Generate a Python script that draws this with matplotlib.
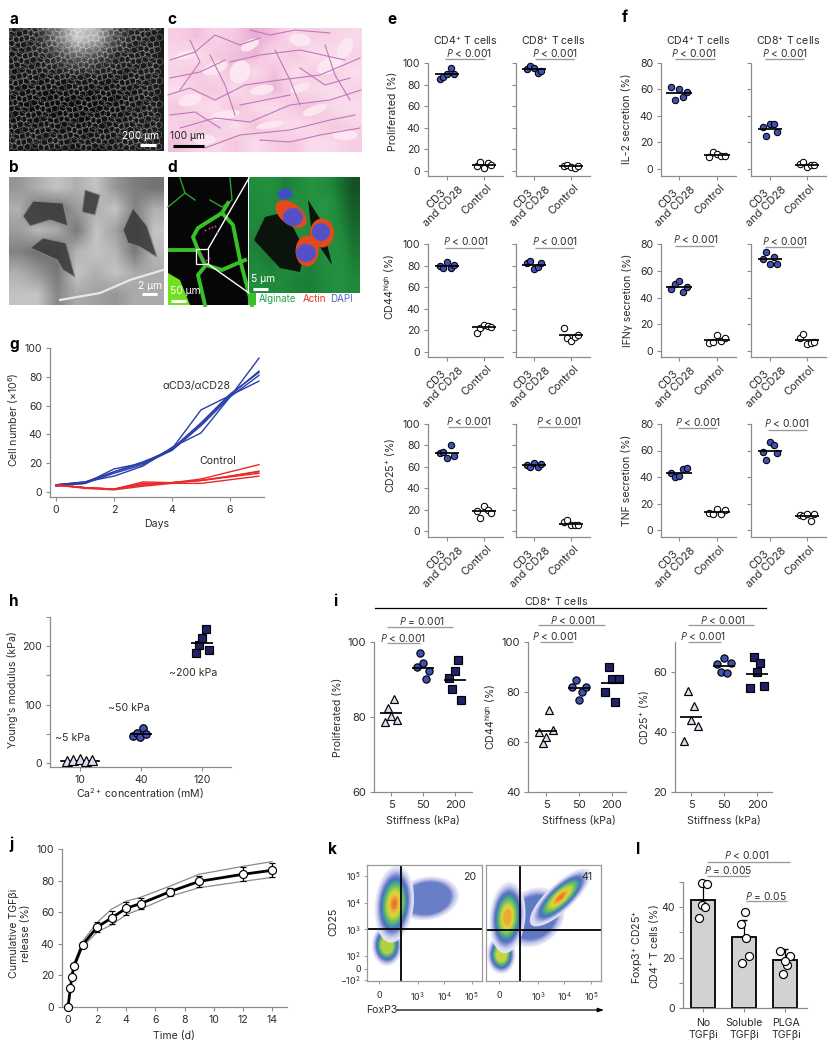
import numpy as np
import matplotlib
matplotlib.use("Agg")
import matplotlib.pyplot as plt
from matplotlib.patches import Ellipse, Polygon, Rectangle
from matplotlib.collections import LineCollection
from matplotlib.colors import LinearSegmentedColormap

plt.rcParams['font.family'] = ['Inter', 'DejaVu Sans']
plt.rcParams['mathtext.fontset'] = 'custom'
plt.rcParams['mathtext.rm'] = 'Inter'
plt.rcParams['mathtext.it'] = 'Open Sans:italic'
plt.rcParams['mathtext.default'] = 'regular'

# ---------- data ----------
OFFSETS = [-0.2, -0.1, 0.0, 0.1, 0.2]
E_CD4_PROLIF = ([85, 87, 90, 95, 90], [5, 8, 3, 7, 6], 90, 6)
E_CD8_PROLIF = ([94, 97, 95, 91, 93], [5, 6, 4, 3, 5], 94, 5)
E_CD4_CD44 = ([80, 78, 83, 78, 81], [18, 22, 25, 24, 23.5], 80, 23)
E_CD8_CD44 = ([82, 84, 77, 79, 82], [22, 13, 10, 14, 15.5], 81, 15.5)
E_CD4_CD25 = ([73, 74, 68, 80, 70], [19, 12.5, 23.5, 20, 17], 73, 18.5)
E_CD8_CD25 = ([62, 60, 64, 60, 63], [8, 10, 5.5, 5.5, 6], 62, 7)
F_CD4_IL2 = ([62, 52, 60, 54, 58], [9, 12.5, 11, 10, 10], 57.5, 10.5)
F_CD8_IL2 = ([32, 25, 34, 34, 28], [3.5, 5, 1.5, 3, 3], 30.5, 3)
F_CD4_IFN = ([46, 50, 52, 44, 48], [6, 7, 12, 7.5, 9.5], 48, 8.5)
F_CD8_IFN = ([68.6, 73.7, 65.3, 70.4, 65], [9.5, 12.5, 5, 6, 7], 68.5, 8)
F_CD4_TNF = ([43, 40, 40.5, 46, 47], [13, 12, 16, 12, 15], 43, 13.5)
F_CD8_TNF = ([59, 52.5, 66.5, 64, 58], [11, 10.5, 12, 7, 12], 60, 10.5)

G_DAYS = [0, 1, 2, 3, 4, 5, 6, 7]
G_BLUE = [[5, 6, 16, 20, 30, 57, 67, 77],
          [5, 7, 11, 18, 31, 41, 66, 93],
          [5, 6, 13, 19, 29, 47, 67, 84],
          [4, 6, 14, 20, 30, 48, 68, 83],
          [5, 7, 14, 21, 29, 46, 66, 81]]
G_RED = [[5, 3, 2, 7, 6.5, 9, 14, 19],
         [5, 3, 2, 6, 6.5, 8, 11, 14.5],
         [5, 3, 2, 5, 6.5, 8, 11, 14],
         [4.5, 3, 2, 5, 6.5, 8, 10.5, 13],
         [5, 2.5, 1.5, 4, 6, 6, 8.5, 11]]

H_CATS = ['10', '40', '120']
H_TRI = [4, 5, 6, 4, 5]
H_TRI_DX = [-0.21, -0.12, 0, 0.1, 0.2]
H_CIR = [47, 52, 44, 60, 49]
H_CIR_DX = [-0.125, -0.07, -0.015, 0.04, 0.09]
H_SQU = [189, 202, 214, 230, 194]
H_SQU_DX = [-0.105, -0.05, 0, 0.06, 0.115]
H_MEANS = [3, 50, 206]

I_CATS = ['5', '50', '200']
I_PROLIF = [[78.6, 82.4, 80.4, 84.8, 79.1], [93.3, 97, 94.3, 90.1, 92.4], [90.3, 87.5, 92.4, 95.2, 84.6]]
I_PROLIF_M = [81, 93, 90]
I_CD44 = [[64.1, 59.5, 62.1, 72.9, 64.7], [82.1, 84.8, 76.8, 79.9, 82.1], [79.9, 89.9, 85.1, 76.1, 85.3]]
I_CD44_M = [64.5, 81.5, 83.5]
I_CD25 = [[36.9, 53.8, 44, 48.7, 42], [62.6, 60.1, 64.7, 59.8, 62.9], [54.8, 65, 60, 63, 55.3]]
I_CD25_M = [45, 62, 59.5]

J_T = [0, 0.17, 0.25, 0.42, 1, 2, 3, 4, 5, 7, 9, 12, 14]
J_Y = [0, 12, 19, 26, 39.5, 50.5, 56.5, 62.5, 65.5, 73, 79.5, 84, 86.5]
J_ERR = [0, 1, 1, 1, 1.5, 3, 4, 4, 3.5, 2.5, 3.5, 4.5, 4.5]
J_UP = [0, 13, 20, 28, 41.5, 53.5, 62, 67, 69.5, 76.5, 84, 89, 92]
J_LO = [0, 11, 18, 25, 38, 47.5, 52, 58.5, 62, 70, 75.5, 79.5, 82]

# flow populations: centre x, centre y, width, height, angle (decades), hottest stop
K_LEFT = [(3.37, 4.16, 2.2, 1.5, 10, 0.34),
          (1.86, 2.40, 1.05, 1.45, 0, 0.72),
          (2.13, 3.95, 1.35, 2.7, -6, 1.0)]
K_RIGHT = [(2.85, 3.45, 2.3, 1.9, 40, 0.36),
           (1.62, 2.05, 1.0, 1.35, 0, 0.75),
           (1.85, 3.45, 1.25, 2.5, -5, 0.88),
           (3.85, 4.20, 0.95, 2.8, -47, 1.0)]
K_STOPS = ['#eceDf8', '#d8daf2', '#b4bbe6', '#7d8ad0', '#4a6abc', '#3f9aa8', '#62bc62', '#a8d048', '#ecd83c', '#f09a2c', '#e0502a']
K_PCT = ['20', '41']

L_CATS = ['No\nTGFβi', 'Soluble\nTGFβi', 'PLGA\nTGFβi']
L_BAR = [43, 28, 19]
L_ERR = [49, 35, 23.5]
L_PTS = [[35.6, 41, 40, 49.6, 49.3], [17.9, 20.5, 27.8, 33.3, 38.1], [13.5, 16.9, 20.6, 18.8, 22.5]]
L_DX = [[-0.1, -0.03, 0.06, -0.02, 0.1], [-0.05, 0.12, 0.06, -0.08, 0.02], [-0.05, 0.06, 0.11, 0.0, -0.11]]

# photographic panels as coarse tone grids
PHOTO_A = [[22, 40, 110, 200, 170, 70, 30, 26], [22, 28, 50, 85, 65, 32, 26, 28], [20, 20, 20, 22, 20, 20, 22, 28],
           [14, 12, 10, 10, 12, 14, 20, 24], [16, 16, 14, 12, 14, 18, 24, 28], [22, 22, 22, 20, 20, 24, 28, 28]]
PHOTO_B = [[150, 175, 195, 175, 195, 150, 125, 115], [175, 120, 110, 155, 175, 195, 130, 175],
           [155, 185, 170, 120, 195, 160, 110, 195], [130, 110, 110, 180, 195, 180, 120, 185],
           [175, 150, 120, 195, 175, 195, 170, 170], [195, 195, 135, 170, 160, 150, 170, 170]]
B_HOLES = [[(23, 216), (33, 201), (63, 203), (68, 226), (50, 220), (30, 226)],
           [(30, 248), (43, 238), (66, 243), (75, 277), (63, 270), (57, 260)],
           [(123, 230), (133, 208), (147, 226), (157, 257), (140, 247), (128, 243)],
           [(85, 190), (100, 195), (95, 215), (82, 212)]]
B_FIBRE = [(60, 300), (100, 293), (130, 280), (163, 270)]
PHOTO_C = [[.45, .55, .4, .5, .65, .55, .35, .45, .4, .35], [.35, .3, .5, .55, .6, .35, .5, .3, .3, .4],
           [.4, .5, .35, .6, .35, .55, .3, .45, .45, .3], [.3, .45, .5, .3, .5, .6, .4, .35, .3, .4],
           [.5, .35, .3, .55, .35, .3, .5, .55, .35, .3], [.4, .5, .45, .3, .55, .4, .3, .4, .5, .4],
           [.55, .4, .35, .5, .3, .45, .5, .3, .35, .45]]
C_WHITE = [(190, 100, 24, 12, -15), (215, 68, 26, 12, -20), (240, 72, 20, 24, 30), (262, 90, 24, 10, -10),
           (300, 40, 22, 12, 10), (330, 65, 28, 16, -25), (345, 48, 14, 22, 30), (185, 55, 22, 8, -15),
           (225, 115, 30, 9, -10), (270, 125, 28, 7, -10), (315, 110, 26, 9, -20), (345, 135, 26, 10, 0),
           (205, 140, 22, 10, -5), (300, 88, 20, 8, -20), (250, 45, 20, 10, -30)]
C_STRANDS = [[(170, 60), (195, 52), (215, 35), (240, 45), (260, 38)], [(230, 62), (260, 55), (300, 50), (345, 60)],
             [(168, 95), (190, 88), (215, 100), (245, 85), (280, 80), (320, 75), (360, 58)],
             [(180, 128), (215, 118), (250, 122), (290, 105), (330, 100), (361, 90)],
             [(205, 148), (240, 135), (290, 130), (330, 120), (355, 115)], [(210, 55), (225, 85), (235, 115)],
             [(275, 50), (290, 80), (300, 105)], [(325, 45), (335, 75), (350, 100)],
             [(170, 78), (200, 72), (225, 60)], [(240, 105), (265, 100), (290, 95)], [(300, 68), (325, 85), (350, 78)],
             [(170, 115), (195, 112), (220, 128)], [(260, 140), (290, 142), (320, 135), (360, 128)],
             [(250, 30), (270, 35), (295, 30), (330, 33)], [(190, 40), (200, 62), (180, 90)]]
D_RIGHT_BG = [[.55, .6, .45, .5, .65, .55, .4, .25], [.5, .55, .5, .6, .6, .7, .45, .3], [.5, .45, .5, .6, .5, .65, .5, .35],
              [.45, .4, .45, .55, .45, .6, .55, .4], [.5, .45, .5, .5, .45, .55, .6, .45], [.55, .5, .5, .45, .45, .5, .6, .5]]

# ---------- helpers ----------
W, H = 838, 1050
fig = plt.figure(figsize=(W / 100, H / 100), dpi=100)
ov = fig.add_axes([0, 0, 1, 1], zorder=5)
ov.set_xlim(0, W); ov.set_ylim(H, 0); ov.axis('off'); ov.patch.set_alpha(0)
bg = fig.add_axes([0, 0, 1, 1], zorder=0)
bg.set_xlim(0, W); bg.set_ylim(H, 0); bg.axis('off')

TXT = '#2b2b2b'
SP = '#8c8c8c'
BLUE = '#3f51b5'
NAVY = '#1f2266'
LAV = '#dcdcf2'
PT = "$\\mathit{P}$"
FS = 7.6
TICK = 7.6


def T(x, y, s, size=FS, color=TXT, rot=0, ha='center', va='center', **kw):
    ov.text(x, y, s, fontsize=size, color=color, rotation=rot, ha=ha, va=va, **kw)


def mk(x0, x1, ytop, ybot, vtop, v0, p0, tx, xv=(0, 1), labels=True, yticks=None, size=TICK):
    per = (p0 - ytop) / (vtop - v0)
    ax = fig.add_axes([x0 / W, 1 - ybot / H, (x1 - x0) / W, (ybot - ytop) / H], zorder=2)
    ax.patch.set_alpha(0)
    ax.set_ylim(v0 - (ybot - p0) / per, vtop)
    px = (tx[1] - tx[0]) / (xv[1] - xv[0])
    ax.set_xlim(xv[0] + (x0 - tx[0]) / px, xv[0] + (x1 - tx[0]) / px)
    for s in ('top', 'right'):
        ax.spines[s].set_visible(False)
    for s in ('left', 'bottom'):
        ax.spines[s].set_color(SP)
        ax.spines[s].set_linewidth(0.9)
    ax.tick_params(colors=SP, labelcolor=TXT, width=0.8, length=3, labelsize=size, pad=2.5)
    if yticks is not None:
        ax.set_yticks(yticks)
    if not labels:
        ax.set_yticklabels([])
    return ax


def bracket(x0, x1, y, tx, ty, s, size=7.4):
    ov.plot([x0, x1], [y, y], color='#9a9a9a', lw=0.95, solid_capstyle='butt')
    T(tx, ty, s, size=size)


def scatter_cols(ax, cols, means, markers, faces, ms=4.6, mew=0.75, dxs=None, half=0.33, start=0):
    for i, (vals, m) in enumerate(zip(cols, means)):
        dx = OFFSETS if dxs is None else dxs[i]
        c = start + i
        ax.plot([c - half, c + half], [m, m], color='black', lw=1.25, zorder=4, solid_capstyle='butt')
        ax.plot([c + d for d in dx], vals, ls='none', marker=markers[i], ms=ms, mfc=faces[i], mec='black',
                mew=mew, zorder=3, clip_on=False)


# ---------- photos ----------
gray_im = dict(cmap='gray', vmin=0, vmax=255, interpolation='bilinear', aspect='auto', zorder=1)
# a: foam texture as a bent honeycomb
bg.imshow(PHOTO_A, extent=[9, 163, 151, 28], **gray_im)
segs = []
R = 3.6
for r in range(0, 30):
    for q in range(0, 30):
        cx = 9 + q * R * 1.73 + (r % 2) * R * 0.87
        cy = 28 + r * R * 1.5
        if cx > 161 or cy > 149:
            continue
        verts = []
        for k in range(6):
            a = np.pi / 6 + k * np.pi / 3
            vx = cx + R * np.cos(a) + 1.4 * np.sin(cy * 0.31 + cx * 0.17)
            vy = cy + R * np.sin(a) + 1.4 * np.cos(cx * 0.29 - cy * 0.13)
            verts.append((min(max(vx, 9), 163), min(max(vy, 28), 151)))
        segs.append(verts + [verts[0]])
bg.add_collection(LineCollection(segs, colors='white', linewidths=0.4, alpha=0.42, zorder=2))
# b
bg.imshow(PHOTO_B, extent=[9, 163, 305, 177], **gray_im)
for pts in B_HOLES:
    bg.add_patch(Polygon(pts, fc='#3c3c3c', ec='#8a8a8a', lw=0.8, alpha=0.9, zorder=2))
xs, ys = zip(*B_FIBRE)
bg.plot(xs, ys, color='#e8e8e8', lw=1.6, zorder=3)
# c
pink = LinearSegmentedColormap.from_list('he', ['#ffffff', '#f6c8e0', '#c868b8'])
bg.imshow(PHOTO_C, extent=[168, 361, 152, 28], cmap=pink, vmin=0, vmax=1, interpolation='bilinear', aspect='auto', zorder=1)
for cx, cy, w, h, a in C_WHITE:
    bg.add_patch(Ellipse((cx, cy), w, h, angle=a, fc='#fbe6f1', ec='none', zorder=2))
for pts in C_STRANDS:
    xs, ys = zip(*pts)
    bg.plot(xs, ys, color='#c078bc', lw=0.8, zorder=3)
# d, left part
bg.add_patch(Rectangle((168, 177), 80, 128, fc='#060606', ec='none', zorder=1))
D_THIN = [[(180, 178), (185, 193), (168, 207)], [(185, 193), (195, 200)], [(230, 178), (232, 200), (222, 207), (210, 200)]]
D_THICK = [[(228, 203), (222, 213), (198, 228), (193, 237), (198, 250), (205, 265)],
           [(222, 213), (233, 225), (240, 260), (252, 305)], [(198, 250), (170, 250)],
           [(245, 260), (222, 270), (206, 265), (198, 275), (205, 305)]]
for pts in D_THIN:
    xs, ys = zip(*pts)
    bg.plot(xs, ys, color='#2ca02c', lw=1.0, zorder=2)
for pts in D_THICK:
    xs, ys = zip(*pts)
    bg.plot(xs, ys, color='#38c028', lw=2.8, zorder=2, solid_joinstyle='round')
bg.add_patch(Polygon([(168, 273), (180, 280), (190, 305), (168, 305)], fc='#70e020', ec='none', zorder=2))
bg.add_patch(Rectangle((248, 293), 8, 12, fc='#38c028', ec='none', zorder=3))
bg.add_patch(Rectangle((248, 177), 2, 116, fc='white', ec='none', zorder=3))
# d, right part
green = LinearSegmentedColormap.from_list('alg', ['#061a0c', '#1f8a3c', '#3aa84c'])
bg.imshow(D_RIGHT_BG, extent=[249, 360, 293, 177], cmap=green, vmin=0, vmax=1, interpolation='bilinear', aspect='auto', zorder=3)
bg.add_patch(Polygon([(254, 240), (265, 217), (285, 212), (305, 250), (300, 272), (280, 268)], fc='#0a140c', ec='none', zorder=4))
bg.add_patch(Polygon([(308, 200), (322, 222), (332, 265), (312, 235)], fc='#0a140c', ec='none', zorder=4))
bg.add_patch(Ellipse((285, 194), 15, 11, fc='#3f4fc8', ec='none', zorder=5))
D_CELLS = [(291, 214, 36, 21, 38, 293, 217, 20, 18), (322, 233, 24, 29, 0, 321, 232, 18, 18), (307, 251, 23, 31, 0, 306, 253, 20, 18)]
for cx, cy, w, h, a, nx, ny, nw, nh in D_CELLS:
    bg.add_patch(Ellipse((cx, cy), w, h, angle=a, fc='#e04a1c', ec='none', zorder=5))
    bg.add_patch(Ellipse((nx, ny), nw, nh, fc='#5650c8', ec='none', zorder=6))
for xy0, xy1 in [((208, 249), (249, 178)), ((208, 264), (249, 293))]:
    ov.plot([xy0[0], xy1[0]], [xy0[1], xy1[1]], color='white', lw=1.0)
ov.add_patch(Rectangle((195.5, 249), 12.5, 15, fc='none', ec='white', lw=0.9))
D_DOTS_X = [205, 209, 212, 215, 201, 203, 206, 209, 217]
D_DOTS_Y = [230, 228, 227, 226, 255, 258, 260, 258, 232]
ov.plot(D_DOTS_X, D_DOTS_Y, ls='none', marker='o', ms=1.3, color='#e040c0', mec='none')

# scale bars
for (x0, x1, y, c) in [(140, 156, 145, 'white'), (173, 204, 146, 'black'), (142, 157, 294, 'white'),
                       (253, 268, 289, 'white'), (171, 186, 301, 'white')]:
    ov.plot([x0, x1], [y, y], color=c, lw=2.2, solid_capstyle='butt')
T(141, 136, '200 µm', size=7.4, color='white')
T(187, 136, '100 µm', size=7.4, color='#222222')
T(150, 286, '2 µm', size=7.4, color='white')
T(263, 279, '5 µm', size=7.4, color='white')
T(185, 291, '50 µm', size=7.4, color='white')
T(277, 299, 'Alginate', size=7.0, color='#22a04a')
T(314, 299, 'Actin', size=7.0, color='#e8352a')
T(341, 299, 'DAPI', size=7.0, color='#5566c4')

# ---------- panels e, f ----------
X_E = [(428, 503, 447, 484), (516, 590, 534, 571)]
X_F = [(661, 736, 679, 717), (751, 826, 770, 807)]
ROWS_E = [(63, 176, 171), (244, 357, 352), (424, 537, 531)]
ROWS_F = [(63, 176, 169), (244, 357, 351), (424, 537, 530)]
E_DATA = [[E_CD4_PROLIF, E_CD8_PROLIF], [E_CD4_CD44, E_CD8_CD44], [E_CD4_CD25, E_CD8_CD25]]
F_DATA = [[F_CD4_IL2, F_CD8_IL2], [F_CD4_IFN, F_CD8_IFN], [F_CD4_TNF, F_CD8_TNF]]


def group(Xs, rows, data, vmax, ticks):
    for r, (ytop, ybot, p0) in enumerate(rows):
        for c, (x0, x1, t0, t1) in enumerate(Xs):
            ax = mk(x0, x1, ytop, ybot, vmax, 0, p0, (t0, t1), labels=(c == 0), yticks=ticks)
            ax.set_xticks([0, 1]); ax.set_xticklabels([])
            a, b, ma, mb = data[r][c]
            scatter_cols(ax, [a, b], [ma, mb], ['o', 'o'], [BLUE, 'white'])
            T(t0 - 7, ybot + 27, 'CD3\nand CD28', size=7.9, rot=45, linespacing=1.05, multialignment='center')
            T(t1 - 7.5, ybot + 23, 'Control', size=7.9, rot=45)


group(X_E, ROWS_E, E_DATA, 100, [0, 20, 40, 60, 80, 100])
group(X_F, ROWS_F, F_DATA, 80, [0, 20, 40, 60, 80])
for x, s in [(465, 'CD4$^{+}$ T cells'), (553, 'CD8$^{+}$ T cells'), (698, 'CD4$^{+}$ T cells'), (788, 'CD8$^{+}$ T cells')]:
    T(x, 41, s, size=7.6)
P_LT = PT + ' < 0.001'
for a in [(445, 485, 59, 469, 53), (535, 574, 59, 555, 53), (675, 715, 59, 694, 53), (765, 804, 59, 785, 53),
          (445, 484, 248, 466, 241), (535, 574, 248, 555, 241), (675, 714, 246, 696, 239), (765, 804, 247, 785, 241),
          (448, 487, 427, 469, 421), (538, 577, 427, 559, 421), (678, 717, 428, 698, 422), (768, 807, 430, 787, 423)]:
    bracket(*a, P_LT)
T(393, 111, 'Proliferated (%)', rot=90)
T(390, 287, 'CD44$^{high}$ (%)', rot=90)
T(390, 465, 'CD25$^{+}$ (%)', rot=90)
T(627, 119, 'IL-2 secretion (%)', rot=90)
T(627, 300, 'IFNγ secretion (%)', rot=90)
T(627, 480, 'TNF secretion (%)', rot=90)

# ---------- panel g ----------
ax = mk(50, 264, 348, 497, 100, 0, 492, (56, 114), xv=(0, 2), yticks=[0, 20, 40, 60, 80, 100])
ax.set_xticks([0, 2, 4, 6])
for row in G_BLUE:
    ax.plot(G_DAYS, row, color='#2a3ea8', lw=1.0)
for row in G_RED:
    ax.plot(G_DAYS, row, color='#ea2a2a', lw=1.0)
T(196, 386, 'αCD3/αCD28')
T(218, 461, 'Control')
T(14, 420, 'Cell number (×10$^{6}$)', rot=90)
T(157, 524, 'Days')

# ---------- panel h ----------
ax = mk(50, 231, 617, 767, 250, 0, 763, (80, 141), yticks=[0, 50, 100, 150, 200, 250])
ax.set_yticklabels(['0', '', '100', '', '200', ''])
ax.set_xticks([0, 1, 2]); ax.set_xticklabels(H_CATS)
ax.plot([-0.31, 0.31], [H_MEANS[0], H_MEANS[0]], color='black', lw=1.25, zorder=2)
ax.plot(H_TRI_DX, H_TRI, ls='none', marker='^', ms=6.6, mfc=LAV, mec='black', mew=0.85, zorder=3, clip_on=False)
scatter_cols(ax, [H_CIR, H_SQU], H_MEANS[1:], ['o', 's'], [BLUE, NAVY], ms=5.4, mew=0.85,
             dxs=[H_CIR_DX, H_SQU_DX], half=0.18, start=1)
T(73, 738, '~5 kPa')
T(129, 708, '~50 kPa')
T(193, 673, '~200 kPa')
T(140, 794, 'Ca$^{2+}$ concentration (mM)')
T(13, 690, "Young's modulus (kPa)", rot=90)

# ---------- panel i ----------
I_AXES = [(374, 472, 642, 792, 100, 60, 792, (391, 423), I_PROLIF, I_PROLIF_M, [60, 80, 100]),
          (528, 626, 642, 792, 100, 40, 792, (546, 579), I_CD44, I_CD44_M, [40, 60, 80, 100]),
          (675, 772, 642, 792, 70, 20, 792, (691, 724), I_CD25, I_CD25_M, [20, 40, 60])]
for x0, x1, yt, yb, vm, v0, p0, tx, cols, means, ticks in I_AXES:
    ax = mk(x0, x1, yt, yb, vm, v0, p0, tx, yticks=ticks, size=8.0)
    ax.set_xticks([0, 1, 2]); ax.set_xticklabels(I_CATS)
    scatter_cols(ax, cols, means, ['^', 'o', 's'], [LAV, BLUE, NAVY], ms=5.2, mew=0.85, half=0.33)
    T(tx[1], 821, 'Stiffness (kPa)')
ov.plot([375, 766], [608, 608], color='black', lw=0.9)
T(556, 602, 'CD8$^{+}$ T cells')
bracket(387, 453, 627, 422, 621, PT + ' = 0.001')
bracket(387, 420, 643, 403, 638, P_LT)
bracket(538, 605, 625, 573, 620, P_LT)
bracket(540, 573, 642, 555, 636, P_LT)
bracket(688, 754, 625, 723, 620, P_LT)
bracket(688, 721, 642, 703, 636, P_LT)
T(338, 717, 'Proliferated (%)', rot=90)
T(491, 717, 'CD44$^{high}$ (%)', rot=90)
T(644, 717, 'CD25$^{+}$ (%)', rot=90)

# ---------- panel j ----------
ax = mk(62, 287, 849, 1007, 100, 0, 1007, (68, 272), xv=(0, 14), yticks=[0, 20, 40, 60, 80, 100])
ax.set_xticks([0, 2, 4, 6, 8, 10, 12, 14])
ax.plot(J_T, J_UP, color='#8a8a8a', lw=0.9, zorder=1)
ax.plot(J_T, J_LO, color='#8a8a8a', lw=0.9, zorder=1)
ax.errorbar(J_T, J_Y, yerr=J_ERR, color='black', lw=2.0, elinewidth=0.9, capsize=2.2, capthick=0.9, marker='o', ms=5.8,
            mfc='white', mec='black', mew=0.85, zorder=3, clip_on=False)
T(20, 933, 'Cumulative TGFβi\nrelease (%)', rot=90, linespacing=1.15, multialignment='center')
T(174, 1036, 'Time (d)')

# ---------- panel k ----------
flow = LinearSegmentedColormap.from_list('flow', K_STOPS)
K_BOX = [(367, 482, 1.11, 5.41, [1.57, 3, 4, 5.02], K_LEFT, 3.0 - 16 / 26.5, 3.0),
         (486, 601, 1.04, 5.38, [1.53, 3, 4, 5.02], K_RIGHT, 3 - 18 / 26.5, 2.97)]
for i, (x0, x1, xl, xr, xt, pops, vx, hy) in enumerate(K_BOX):
    ax = fig.add_axes([x0 / W, 1 - 981 / H, (x1 - x0) / W, 116 / H], zorder=2)
    ax.set_xlim(xl, xr); ax.set_ylim(1.06, 5.41)
    for s in ax.spines.values():
        s.set_color('#9a9a9a'); s.set_linewidth(0.9)
    for cx, cy, w, h, a, peak in pops:
        for lv in np.linspace(0, peak, 18):
            sc = (1 - lv) ** 0.75 * 1.05 + 0.03
            ax.add_patch(Ellipse((cx, cy), w * sc, h * sc, angle=a, fc=flow(lv), ec='none', alpha=0.85))
    ax.axvline(vx, color='black', lw=1.3); ax.axhline(hy, color='black', lw=1.3)
    ax.set_xticks(xt); ax.set_xticklabels(['0', '10$^{3}$', '10$^{4}$', '10$^{5}$'])
    ax.tick_params(colors=SP, labelcolor=TXT, width=0.6, length=2, labelsize=6.4, pad=5)
    if i == 0:
        ax.set_yticks([1.11, 1.52, 2, 3, 4, 5])
        ax.set_yticklabels(['−10$^{2}$', '0', '10$^{2}$', '10$^{3}$', '10$^{4}$', '10$^{5}$'])
        ax.tick_params(axis='y', labelsize=6.4, pad=2.5)
    else:
        ax.set_yticks([])
    T([470, 587][i], 877, K_PCT[i], size=7.6)
T(333, 922, 'CD25', rot=90)
T(366, 1010, 'FoxP3', ha='left')
ov.annotate('', xy=(604, 1010), xytext=(397, 1010),
            arrowprops=dict(arrowstyle='-|>,head_width=0.12,head_length=0.35', color='black', lw=0.9, shrinkA=0, shrinkB=0))

# ---------- panel l ----------
ax = mk(683, 807, 882, 1008, 50, 0, 1008, (703, 744), yticks=[0, 10, 20, 30, 40, 50])
ax.set_yticklabels(['0', '', '20', '', '40', ''])
ax.set_xticks([0, 1, 2]); ax.set_xticklabels([])
ax.bar([0, 1, 2], L_BAR, width=0.6, color='#d2d2d2', edgecolor='black', lw=1.3, zorder=2)
ax.errorbar([0, 1, 2], L_BAR, yerr=[[0, 0, 0], [e - b for e, b in zip(L_ERR, L_BAR)]], fmt='none', ecolor='black',
            elinewidth=0.9, capsize=2, zorder=2)
for i, vals in enumerate(L_PTS):
    ax.plot([i + d for d in L_DX[i]], vals, ls='none', marker='o', ms=5.8, mfc='white', mec='black', mew=0.85, zorder=3, clip_on=False)
for x, s in zip([703, 744, 786], L_CATS):
    T(x, 1029, s, linespacing=1.15, multialignment='center')
T(646, 947, 'Foxp3$^{+}$ CD25$^{+}$\nCD4$^{+}$ T cells (%)', rot=90, linespacing=1.15, multialignment='center')
bracket(707, 790, 862, 747, 855, P_LT)
bracket(707, 749, 876, 728, 870, PT + ' = 0.005')
bracket(746, 787, 901, 766, 896, PT + ' = 0.05')

# ---------- panel letters ----------
LETTERS = [('a', 14, 19), ('c', 172, 19), ('b', 14, 168), ('d', 172, 168), ('e', 392, 19), ('f', 625, 18),
           ('g', 14, 344), ('h', 14, 602), ('i', 335, 601), ('j', 11, 844), ('k', 332, 849), ('l', 638, 849)]
for s, x, y in LETTERS:
    T(x, y, s, size=11, color='black', fontweight='bold')

fig.savefig('out.png', dpi=100)
